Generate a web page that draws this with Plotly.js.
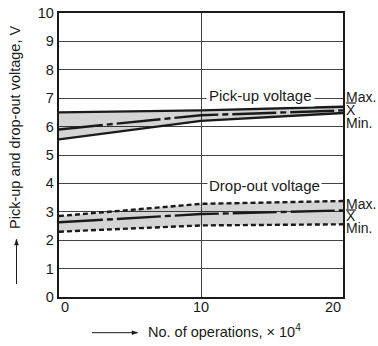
<!DOCTYPE html>
<html>
<head>
<meta charset="utf-8">
<script src="https://cdn.plot.ly/plotly-3.0.1.min.js"></script>
<style>
  html, body { margin: 0; padding: 0; background: #fff; }
  #chart { width: 378px; height: 346px; }
</style>
</head>
<body>
<div id="chart"></div>
<script>
// Number of operations (x 10^4)
const operations = [0, 10, 20];

// Pick-up voltage (V)
const pickupMax  = [6.5, 6.57, 6.7];
const pickupMean = [5.9, 6.4, 6.57];
const pickupMin  = [5.55, 6.2, 6.48];

// Drop-out voltage (V)
const dropMax  = [2.85, 3.28, 3.38];
const dropMean = [2.63, 2.92, 3.05];
const dropMin  = [2.3, 2.52, 2.56];

const xTickLabels = ['0', '10', '20'];
const yTickValues = [0, 1, 2, 3, 4, 5, 6, 7, 8, 9, 10];

const FONT = 'Liberation Sans, Arial, Helvetica, sans-serif';
const INK = '#1a1a1a';

// plot frame in pixels, used to place decorations in paper units
const PL = 59, PW = 284, PB = 297, PH = 284;
const px = (v) => (v - PL) / PW;
const py = (v) => (PB - v) / PH;

// Band between max and min curves
function band(xs, hi, lo) {
  return {
    x: xs.concat(xs.slice().reverse()),
    y: hi.concat(lo.slice().reverse()),
    type: 'scatter', mode: 'lines', fill: 'toself',
    fillcolor: 'rgba(0,0,0,0.17)', line: { width: 0 },
    hoverinfo: 'skip', showlegend: false
  };
}
function curve(xs, ys, dash) {
  return {
    x: xs, y: ys, type: 'scatter', mode: 'lines',
    line: { color: INK, width: 2.4, dash: dash },
    showlegend: false
  };
}

const dashDot = '44px,4px,6px,4px';
const dotted = '5px,3px';

const traces = [
  band(operations, pickupMax, pickupMin),
  band(operations, dropMax, dropMin),
  curve(operations, pickupMax, 'solid'),
  curve(operations, pickupMin, 'solid'),
  curve(operations, pickupMean, dashDot),
  curve(operations, dropMax, dotted),
  curve(operations, dropMin, dotted),
  curve(operations, dropMean, dashDot)
];

const txt = (size) => ({ family: FONT, size: size, color: INK });

const annotations = [];
// x tick labels: outer ones sit inside the frame edges
xTickLabels.forEach((t, i) => {
  annotations.push({
    x: operations[i], xref: 'x', y: -0.035, yref: 'paper',
    text: t, showarrow: false, font: txt(14.5),
    xanchor: i === 0 ? 'left' : (i === xTickLabels.length - 1 ? 'right' : 'center'),
    yanchor: 'middle'
  });
});

// curve labels sitting on the gridlines
annotations.push({
  x: 14.2, xref: 'x', y: 7.08, yref: 'y', text: 'Pick-up voltage',
  showarrow: false, font: txt(15), bgcolor: '#fff', borderpad: 2
});
annotations.push({
  x: 14.44, xref: 'x', y: 3.93, yref: 'y', text: 'Drop-out voltage',
  showarrow: false, font: txt(15), bgcolor: '#fff', borderpad: 1
});

// Max / mean / Min keys at the right edge
function keys(yMax, yMean, yMin) {
  [['Max.', yMax], ['X', yMean], ['Min.', yMin]].forEach(([t, v]) => {
    annotations.push({
      x: px(345), xref: 'paper', y: py(v), yref: 'paper',
      text: t, showarrow: false, font: txt(14), borderpad: 0,
      xanchor: 'left', yanchor: 'middle'
    });
  });
}
keys(97, 110, 123);
keys(204, 216, 228);

// axis titles
annotations.push({
  x: px(15), xref: 'paper', y: py(128), yref: 'paper',
  text: 'Pick-up and drop-out voltage, V', textangle: -90,
  showarrow: false, font: txt(14.5), xanchor: 'center', yanchor: 'middle'
});
annotations.push({
  x: px(146), xref: 'paper', y: py(331), yref: 'paper',
  text: 'No. of operations, \u00d7 10<sup>4</sup>',
  showarrow: false, font: txt(14.5), xanchor: 'left', yanchor: 'middle'
});

const paperLine = (x0, y0, x1, y1, w) => ({
  type: 'line', xref: 'paper', yref: 'paper',
  x0: px(x0), y0: py(y0), x1: px(x1), y1: py(y1),
  line: { color: INK, width: w }
});
const paperPath = (pts) => ({
  type: 'path', xref: 'paper', yref: 'paper',
  path: 'M' + pts.map(p => px(p[0]) + ',' + py(p[1])).join('L') + 'Z',
  fillcolor: INK, line: { color: INK, width: 0.5 }
});

const shapes = [
  // overbars of the mean symbol
  paperLine(346, 103, 356, 103, 1.2),
  paperLine(346, 210, 356, 210, 1.2),
  // leading arrow of the y title
  paperLine(16.5, 284, 16.5, 243, 1),
  paperPath([[16.5, 239], [14.6, 245], [18.4, 245]]),
  // leading arrow of the x title
  paperLine(92, 332.7, 134, 332.7, 1),
  paperPath([[138, 332.7], [132, 330.8], [132, 334.6]])
];

const layout = {
  width: 378, height: 346,
  margin: { l: 59, r: 35, t: 13, b: 49 },
  paper_bgcolor: '#fff', plot_bgcolor: '#fff',
  showlegend: false,
  font: txt(14.5),
  xaxis: {
    range: [0, 20], tickvals: [10], showticklabels: false, ticks: '',
    showgrid: true, gridcolor: '#444', gridwidth: 1, zeroline: false,
    showline: true, mirror: true, linecolor: INK, linewidth: 2.2,
    fixedrange: true
  },
  yaxis: {
    range: [0, 10], tickvals: yTickValues, ticks: '',
    tickfont: txt(14.5),
    showgrid: true, gridcolor: '#444', gridwidth: 1, zeroline: false,
    showline: true, mirror: true, linecolor: INK, linewidth: 2.2,
    fixedrange: true
  },
  annotations: annotations,
  shapes: shapes
};

Plotly.newPlot('chart', traces, layout, { staticPlot: true, displayModeBar: false });
</script>
</body>
</html>
